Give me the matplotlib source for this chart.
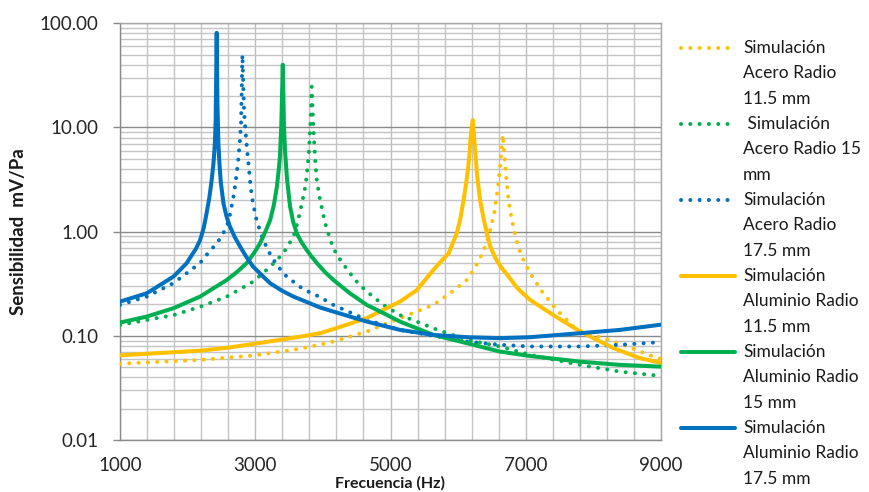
import matplotlib
matplotlib.use("Agg")
import matplotlib.pyplot as plt
import numpy as np
from matplotlib.lines import Line2D
from matplotlib.ticker import FixedLocator, FixedFormatter, LogLocator, NullFormatter

plt.rcParams["font.family"] = ["Lato", "DejaVu Sans"]

# Acero radio 11.5 mm (dotted, yellow)
freq_ac_115 = [1000, 2185, 3000, 3660, 4155, 4650, 5140, 5635, 5880, 6130, 6250, 6375,
               6460, 6530, 6590, 6620, 6645, 6661, 6680, 6710, 6745, 6795, 6860, 6940,
               7065, 7240, 7460, 7755, 8150, 8445, 8890, 9000]
sens_ac_115 = [0.054, 0.0587, 0.065, 0.075, 0.088, 0.11, 0.148, 0.198, 0.256, 0.344, 0.45, 0.65,
               0.95, 1.45, 2.7, 4.2, 6.5, 8.5, 6.0, 3.37, 2.0, 1.29, 0.83, 0.58,
               0.40, 0.266, 0.177, 0.114, 0.095, 0.082, 0.063, 0.060]

# Acero radio 15 mm (dotted, green)
freq_ac_15 = [1000, 1395, 1790, 2185, 2580, 2970, 3220, 3415, 3565, 3630, 3690, 3730,
              3760, 3785, 3800, 3820, 3835, 3860, 3885, 3910, 3960, 4035, 4090, 4155,
              4270, 4400, 4520, 4650, 4895, 5140, 5390, 5635, 6130, 6620, 7065, 7805,
              8395, 8880, 9000]
sens_ac_15 = [0.127, 0.142, 0.158, 0.19, 0.238, 0.331, 0.46, 0.62, 0.895, 1.25, 1.87, 2.5,
              3.37, 5.0, 7.0, 12.0, 24.6, 9.8, 5.0, 3.1, 2.0, 1.2, 0.92, 0.69,
              0.52, 0.40, 0.32, 0.266, 0.198, 0.158, 0.137, 0.118, 0.0914, 0.079, 0.0656, 0.0526,
              0.0453, 0.042, 0.041]

# Acero radio 17.5 mm (dotted, blue)
freq_ac_175 = [1000, 1395, 1790, 2185, 2300, 2430, 2510, 2580, 2620, 2650, 2680, 2700,
               2725, 2750, 2770, 2790, 2810, 2835, 2855, 2875, 2900, 2925, 2950, 2985,
               3020, 3070, 3120, 3190, 3270, 3365, 3465, 3710, 3960, 4155, 4650, 5140,
               5635, 6130, 6620, 7065, 7805, 8395, 9000]
sens_ac_175 = [0.198, 0.238, 0.32, 0.50, 0.62, 0.77, 0.92, 1.12, 1.4, 1.74, 2.2, 2.7,
               3.6, 5.0, 7.0, 11.0, 50.0, 14.0, 9.5, 6.5, 4.5, 3.0, 2.17, 1.65,
               1.29, 1.02, 0.83, 0.66, 0.535, 0.44, 0.37, 0.28, 0.235, 0.198, 0.142, 0.114,
               0.100, 0.088, 0.082, 0.079, 0.079, 0.082, 0.087]

# Aluminio radio 11.5 mm (solid, yellow)
freq_al_115 = [1000, 2185, 2600, 3100, 3660, 3960, 4155, 4650, 5140, 5390, 5635, 5750,
               5860, 5930, 5980, 6030, 6080, 6115, 6150, 6170, 6190, 6217, 6250, 6280,
               6325, 6375, 6425, 6475, 6550, 6630, 6720, 6880, 7065, 7410, 7805, 8300,
               8690, 9000]
sens_al_115 = [0.065, 0.072, 0.077, 0.086, 0.098, 0.106, 0.116, 0.148, 0.213, 0.275, 0.43, 0.52,
               0.62, 0.80, 0.966, 1.3, 2.0, 2.8, 4.2, 5.8, 8.8, 11.8, 6.1, 3.5,
               2.0, 1.35, 0.966, 0.72, 0.56, 0.46, 0.39, 0.285, 0.221, 0.158, 0.11, 0.076,
               0.061, 0.055]

# Aluminio radio 15 mm (solid, green)
freq_al_15 = [1000, 1395, 1790, 2185, 2580, 2730, 2875, 2980, 3070, 3150, 3220, 3275,
              3320, 3345, 3365, 3385, 3407, 3425, 3440, 3470, 3515, 3560, 3615, 3680,
              3760, 3830, 3910, 4030, 4155, 4400, 4650, 4895, 5140, 5635, 6130, 6620,
              7065, 7805, 8395, 9000]
sens_al_15 = [0.134, 0.153, 0.184, 0.238, 0.344, 0.41, 0.50, 0.62, 0.77, 1.0, 1.29, 1.8,
              2.7, 3.8, 5.2, 10.5, 40.0, 10.0, 6.0, 3.2, 1.74, 1.25, 0.96, 0.80,
              0.667, 0.58, 0.50, 0.41, 0.344, 0.256, 0.198, 0.165, 0.137, 0.102, 0.085, 0.0705,
              0.064, 0.0565, 0.0526, 0.0506]

# Aluminio radio 17.5 mm (solid, blue)
freq_al_175 = [1000, 1395, 1790, 1985, 2050, 2120, 2185, 2240, 2280, 2320, 2355, 2380,
               2395, 2405, 2415, 2430, 2440, 2455, 2470, 2490, 2530, 2575, 2625, 2700,
               2775, 2870, 2970, 3100, 3220, 3400, 3565, 3960, 4155, 4650, 5140, 5635,
               6130, 6620, 7065, 7805, 8395, 9000]
sens_al_175 = [0.213, 0.256, 0.37, 0.497, 0.58, 0.68, 0.83, 1.1, 1.5, 2.1, 3.1, 4.4,
               5.8, 7.5, 12.0, 81.0, 18.0, 7.0, 4.6, 3.0, 1.87, 1.4, 1.12, 0.88,
               0.72, 0.57, 0.46, 0.38, 0.32, 0.27, 0.238, 0.187, 0.171, 0.137, 0.114, 0.102,
               0.097, 0.095, 0.097, 0.106, 0.114, 0.128]

labels = [
    "Simulación\nAcero Radio\n11.5 mm",
    " Simulación\nAcero Radio 15\nmm",
    "Simulación\nAcero Radio\n17.5 mm",
    "Simulación\nAluminio Radio\n11.5 mm",
    "Simulación\nAluminio Radio\n15 mm",
    "Simulación\nAluminio Radio\n17.5 mm",
]

x_ticks = [1000, 3000, 5000, 7000, 9000]
x_tick_labels = ["1000", "3000", "5000", "7000", "9000"]
y_ticks = [0.01, 0.1, 1, 10, 100]
y_tick_labels = ["0.01", "0.10", "1.00", "10.00", "100.00"]

YELLOW = "#FFC000"
GREEN = "#00B050"
BLUE = "#0070C0"

series = [
    (freq_ac_115, sens_ac_115, YELLOW, "dot"),
    (freq_ac_15, sens_ac_15, GREEN, "dot"),
    (freq_ac_175, sens_ac_175, BLUE, "dot"),
    (freq_al_115, sens_al_115, YELLOW, "solid"),
    (freq_al_15, sens_al_15, GREEN, "solid"),
    (freq_al_175, sens_al_175, BLUE, "solid"),
]

W, H = 869, 492
fig = plt.figure(figsize=(W / 100, H / 100), dpi=100)
ax = fig.add_axes([120 / W, 1 - 440 / H, 541 / W, (440 - 23.3) / H])

LW = 2.9
DOTS = (0, (0.01, 2.3))


def style_kwargs(kind):
    if kind == "dot":
        return dict(linestyle=DOTS, dash_capstyle="round")
    return dict(linestyle="-", solid_capstyle="round", solid_joinstyle="round")


for f, s, color, kind in series:
    ax.plot(f, s, color=color, lw=LW, zorder=3, **style_kwargs(kind))

ax.set_yscale("log")
ax.set_xlim(1000, 9000)
ax.set_ylim(0.01, 100)

ax.xaxis.set_major_locator(FixedLocator(x_ticks))
ax.xaxis.set_major_formatter(FixedFormatter(x_tick_labels))
ax.xaxis.set_minor_locator(FixedLocator(np.arange(1000, 9001, 400)))
ax.yaxis.set_major_locator(FixedLocator(y_ticks))
ax.yaxis.set_major_formatter(FixedFormatter(y_tick_labels))
ax.yaxis.set_minor_locator(LogLocator(base=10, subs=np.arange(2, 10)))
ax.yaxis.set_minor_formatter(NullFormatter())

ax.grid(which="major", axis="y", color="#8a8a8a", lw=1.0)
ax.grid(which="major", axis="x", color="#bdbdbd", lw=1.0)
ax.grid(which="minor", color="#c4c4c4", lw=1.0)
ax.set_axisbelow(True)

for sp in ax.spines.values():
    sp.set_color("#a6a6a6")
    sp.set_linewidth(1.0)
ax.spines["left"].set_color("#8a8a8a")
ax.spines["bottom"].set_color("#8a8a8a")

ax.tick_params(axis="y", which="major", length=5, width=1, color="#8a8a8a",
               pad=10.5, labelsize=13.5, labelcolor="#262626")
ax.tick_params(axis="x", which="major", length=0, pad=12, labelsize=13.5,
               labelcolor="#262626")
ax.tick_params(which="minor", length=0)

fig.text(19 / W, 1 - 232 / H, "Sensibilidad  mV/Pa", rotation=90, fontsize=13.5,
         fontweight="bold", ha="center", va="center", color="#1a1a1a")
fig.text(390 / W, 1 - 491 / H, "Frecuencia (Hz)", fontsize=11.5, fontweight="bold",
         ha="center", va="bottom", color="#1a1a1a")

# legend, drawn by hand so the handle sits beside the first text line
entry_top = 48
entry_step = 76
line_step = 25.4
for i, (f, s, color, kind) in enumerate(series):
    y0 = entry_top + i * entry_step
    yf = 1 - y0 / H
    fig.add_artist(Line2D([681 / W, 735 / W], [yf, yf], transform=fig.transFigure,
                          color=color, lw=LW, **style_kwargs(kind)))
    for k, line in enumerate(labels[i].split("\n")):
        fig.text(743 / W, 1 - (y0 + k * line_step) / H, line, fontsize=12.5,
                 ha="left", va="center", color="#1a1a1a")

fig.savefig("out.png", dpi=100)
